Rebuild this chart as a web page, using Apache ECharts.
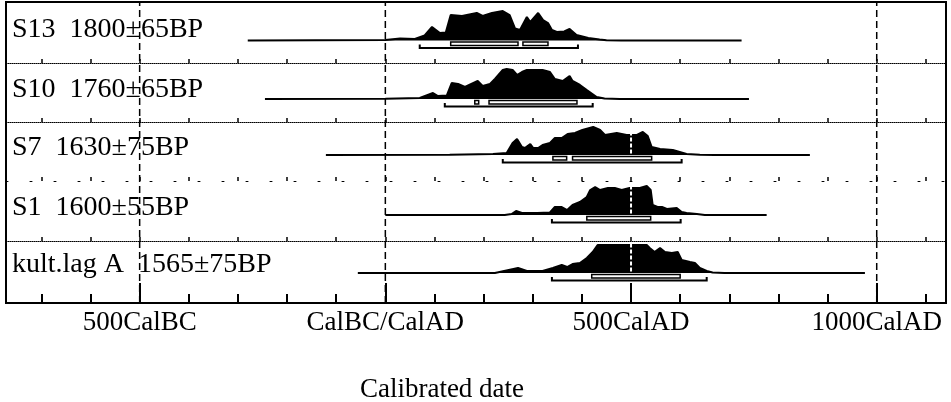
<!DOCTYPE html>
<html><head><meta charset="utf-8">
<script src="https://cdn.jsdelivr.net/npm/echarts@6/dist/echarts.min.js"></script>
<style>html,body{margin:0;padding:0;background:#fff}#c{width:951px;height:402px}</style>
</head><body><div id="c"></div>
<script>
// ---- data (calendar year, relative probability) ----
const rowLabels = ['S13  1800\u00b165BP', 'S10  1760\u00b165BP', 'S7  1630\u00b175BP', 'S1  1600\u00b155BP', 'kult.lag A  1565\u00b175BP'];
const s13 = [[-280,0],[0,0.5],[30,2],[60,1.5],[80,5],[95,13.5],[111,7.5],[123,8],[133,25.5],[156,24.5],[186,27.5],[198,24.5],[217,27.5],[239,29.5],[253,25.5],[264,12],[274,10.5],[288,23.5],[295,18.5],[311,27.5],[321,20.5],[331,17.5],[339,10.5],[349,8.5],[364,9],[375,11.5],[389,5.5],[413,2.5],[436,1],[450,0.3],[480,0],[725,0]];
const s10 = [[-245,0],[0,0.3],[70,1],[97,6],[107,3],[125,3.5],[135,16],[148,15],[162,12],[188,18],[198,13],[213,15],[223,20],[239,29],[247,30],[259,29],[268,24],[278,27],[288,29],[320,29],[335,27],[345,20],[361,18],[375,23],[381,18],[396,14],[410,9],[430,2],[446,0.5],[477,0],[740,0]];
const s7 = [[-121,0],[131,0.3],[219,1],[247,2],[259,12],[268,16],[278,8],[284,7],[295,11],[301,7],[311,7],[320,10],[335,12],[345,17],[359,17],[371,21],[386,22],[401,25],[423,28],[437,25],[447,20],[471,22],[491,20],[512,20],[524,23],[534,19],[542,8],[559,6],[585,5],[599,3],[613,1],[640,0.3],[670,0],[864,0]];
const s1 = [[0,0],[243,0],[257,1],[266,4],[278,2],[309,2],[335,2.5],[345,8],[359,8],[370,5],[381,10],[396,13],[410,18],[417,25],[427,28],[437,25],[453,27],[467,27],[481,25],[497,27],[518,27],[532,29],[540,25],[544,10],[554,8],[563,8],[573,6],[593,7],[603,3],[613,2],[634,1],[650,0],[776,0]];
const kultA = [[-56,0],[223,0],[270,5],[288,2],[320,2],[341,5],[359,8],[370,6],[381,9],[396,10],[410,15],[422,21],[432,28],[532,28],[538,25],[548,21],[559,25],[569,21],[583,20],[595,21],[603,13],[620,11],[630,10],[640,5],[654,2],[666,0.5],[690,0],[976,0]];
const dists = [s13, s10, s7, s1, kultA];
// 68.2% (1 sigma) and 95.4% (2 sigma) ranges
const sigma1 = [[[133,270],[280,331]], [[182,190],[211,390]], [[341,369],[381,542]], [[410,540]], [[420,600]]];
const sigma2 = [[70,392], [121,422], [239,603], [339,601], [339,654]];
const minorTicks = [-700,-600,-500,-400,-300,-200,-100,0,100,200,300,400,500,600,700,800,900,1000,1100];
const majorTicks = [-500, 0, 500, 1000];
const majorLabels = ['500CalBC', 'CalBC/CalAD', '500CalAD', '1000CalAD'];
const gridLineYears = [-500, 0, 1000];
const whiteLineYear = 500;
const axisTitle = 'Calibrated date';

// ---- layout ----
const xMin = -772, xMax = 1141;
const rowTop = [2, 63, 122, 181, 241];
const rowBottom = [63, 122, 181, 241, 303];
const base = [40.5, 99, 155, 215, 273];
const FONT = '"Liberation Serif", "Times New Roman", serif';

const grids = [], xAxes = [], yAxes = [], series = [];
for (let i = 0; i < 5; i++) {
  grids.push({left: 6, right: 5, top: rowTop[i], height: rowBottom[i] - rowTop[i]});
  const sep = i < 4;
  xAxes.push({type: 'value', gridIndex: i, min: xMin, max: xMax, position: 'bottom',
    axisLine: {show: sep, onZero: false, lineStyle: {color: '#000', width: 1, type: i === 2 ? [2, 22] : [1, 1]}},
    axisTick: {show: sep, customValues: minorTicks, inside: true, length: 4, lineStyle: {color: '#000', width: 1.5}},
    axisLabel: {show: false}, splitLine: {show: false}});
  const yMinV = base[i] - rowBottom[i], yMaxV = base[i] - rowTop[i];
  yAxes.push({type: 'value', gridIndex: i, min: yMinV, max: yMaxV, show: false, splitLine: {show: false}});
  series.push({type: 'line', xAxisIndex: i, yAxisIndex: i, data: dists[i], symbol: 'none', silent: true,
    lineStyle: {color: '#000', width: 2}, areaStyle: {color: '#000', opacity: 1, origin: 0}, z: 2});
  series.push({type: 'custom', xAxisIndex: i, yAxisIndex: i, data: [[whiteLineYear, 0]], silent: true, z: 3,
    encode: {x: 0, y: 1},
    renderItem: (p, api) => {
      const a = api.coord([api.value(0), 1.5]);
      const b = api.coord([api.value(0), yMaxV - 3]);
      return {type: 'line', shape: {x1: a[0], y1: a[1], x2: b[0], y2: b[1]}, style: {stroke: '#fff', lineWidth: 2, lineDash: [4, 2]}};
    }});
  const rdata = sigma1[i].map(r => [r[0], r[1], 1]).concat([[sigma2[i][0], sigma2[i][1], 2]]);
  series.push({type: 'custom', xAxisIndex: i, yAxisIndex: i, data: rdata, silent: true, z: 4,
    encode: {x: [0, 1]},
    renderItem: (p, api) => {
      const s = api.value(0), e = api.value(1), t = api.value(2);
      const p1 = api.coord([s, 0]), p2 = api.coord([e, 0]);
      if (t === 1) {
        return {type: 'rect', shape: {x: p1[0], y: p1[1] + 1.5, width: p2[0] - p1[0], height: 3.5},
          style: {fill: '#fff', stroke: '#000', lineWidth: 1.5}};
      }
      return {type: 'polyline', shape: {points: [[p1[0], p1[1] + 4], [p1[0], p1[1] + 7.5], [p2[0], p2[1] + 7.5], [p2[0], p2[1] + 4]]},
        style: {fill: null, stroke: '#000', lineWidth: 2}};
    }});
}
// outer frame grid
grids.push({left: 6, right: 5, top: 2, height: 301, show: true, borderColor: '#000', borderWidth: 2, backgroundColor: 'transparent'});
xAxes.push({type: 'value', gridIndex: 5, min: xMin, max: xMax, position: 'bottom',
  axisLine: {show: false}, axisTick: {show: true, customValues: minorTicks, inside: true, length: 9, lineStyle: {color: '#000', width: 2}},
  axisLabel: {show: false}, splitLine: {show: false}});
xAxes.push({type: 'value', gridIndex: 5, min: xMin, max: xMax, position: 'bottom',
  axisLine: {show: false}, axisTick: {show: true, customValues: majorTicks, inside: true, length: 20, lineStyle: {color: '#000', width: 2}},
  axisLabel: {show: true, customValues: majorTicks, margin: 6, color: '#000', fontFamily: FONT, fontSize: 27,
    formatter: v => majorLabels[majorTicks.indexOf(v)] || ''},
  splitLine: {show: false}});
yAxes.push({type: 'value', gridIndex: 5, min: 0, max: 1, show: false, splitLine: {show: false}});
series.push({type: 'custom', xAxisIndex: 5, yAxisIndex: 5, data: gridLineYears.map(v => [v, 0]), silent: true, z: 1,
  encode: {x: 0, y: 1},
  renderItem: (p, api) => {
    const a = api.coord([api.value(0), 0]);
    const b = api.coord([api.value(0), 1]);
    return {type: 'line', shape: {x1: a[0], y1: a[1], x2: b[0], y2: b[1]}, style: {stroke: '#000', lineWidth: 1.5, lineDash: [7, 4]}};
  }});

const textY = [29.5, 90, 148, 208, 265];
const graphic = rowLabels.map((t, i) => ({type: 'text', x: 12, y: textY[i], z: 10,
  style: {text: t, fill: '#000', fontFamily: FONT, fontSize: 28, align: 'left', verticalAlign: 'middle'}}));
graphic.push({type: 'text', x: 442, y: 390, z: 10,
  style: {text: axisTitle, fill: '#000', fontFamily: FONT, fontSize: 27, align: 'center', verticalAlign: 'middle'}});

const chart = echarts.init(document.getElementById('c'));
chart.setOption({animation: false, backgroundColor: '#fff', grid: grids, xAxis: xAxes, yAxis: yAxes, series: series, graphic: graphic});
</script></body></html>
